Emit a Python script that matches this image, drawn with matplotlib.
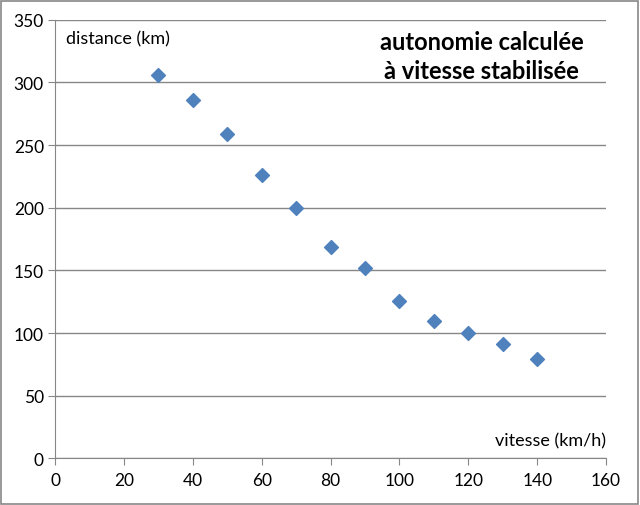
import matplotlib
matplotlib.use("Agg")
import matplotlib.pyplot as plt
from matplotlib.patches import Rectangle

vitesse = [30, 40, 50, 60, 70, 80, 90, 100, 110, 120, 130, 140]
distance = [306, 286, 259, 226, 200, 169, 152, 126, 110, 100, 91, 79]
x_ticks = [0, 20, 40, 60, 80, 100, 120, 140, 160]
y_ticks = [0, 50, 100, 150, 200, 250, 300, 350]

plt.rcParams['font.family'] = ['Lato', 'DejaVu Sans']

fig = plt.figure(figsize=(6.4, 5.06), dpi=100)
ax = fig.add_axes([0.086, 0.092, 0.861, 0.867])
ax.scatter(vitesse, distance, marker='D', s=50, color='#4F81BD', edgecolors='#4F81BD', zorder=3)
ax.set_xlim(0, 160)
ax.set_ylim(0, 350)
ax.set_xticks(x_ticks)
ax.set_yticks(y_ticks)
ax.grid(axis='y', color='#878787', linewidth=1)
ax.set_axisbelow(True)
for s in ['top', 'right']:
    ax.spines[s].set_visible(False)
for s in ['left', 'bottom']:
    ax.spines[s].set_color('#878787')
ax.tick_params(axis='both', direction='out', length=5, color='#878787', labelsize=12.5, labelcolor='black')
ax.tick_params(axis='x', pad=5)
ax.tick_params(axis='y', pad=3)

ax.text(0.02, 0.975, 'distance (km)', transform=ax.transAxes, fontsize=13, va='top', ha='left')
ax.text(1.0, 0.042, 'vitesse (km/h)', transform=ax.transAxes, fontsize=13, va='center', ha='right')
ax.text(0.774, 0.977, 'autonomie calculée\nà vitesse stabilisée', transform=ax.transAxes,
        fontsize=17, fontweight='bold', va='top', ha='center', linespacing=1.3)

fig.patches.append(Rectangle((0.002, 0.002), 0.995, 0.995, transform=fig.transFigure,
                             fill=False, edgecolor='#878787', linewidth=1.2))
fig.savefig('out.png', dpi=100)
